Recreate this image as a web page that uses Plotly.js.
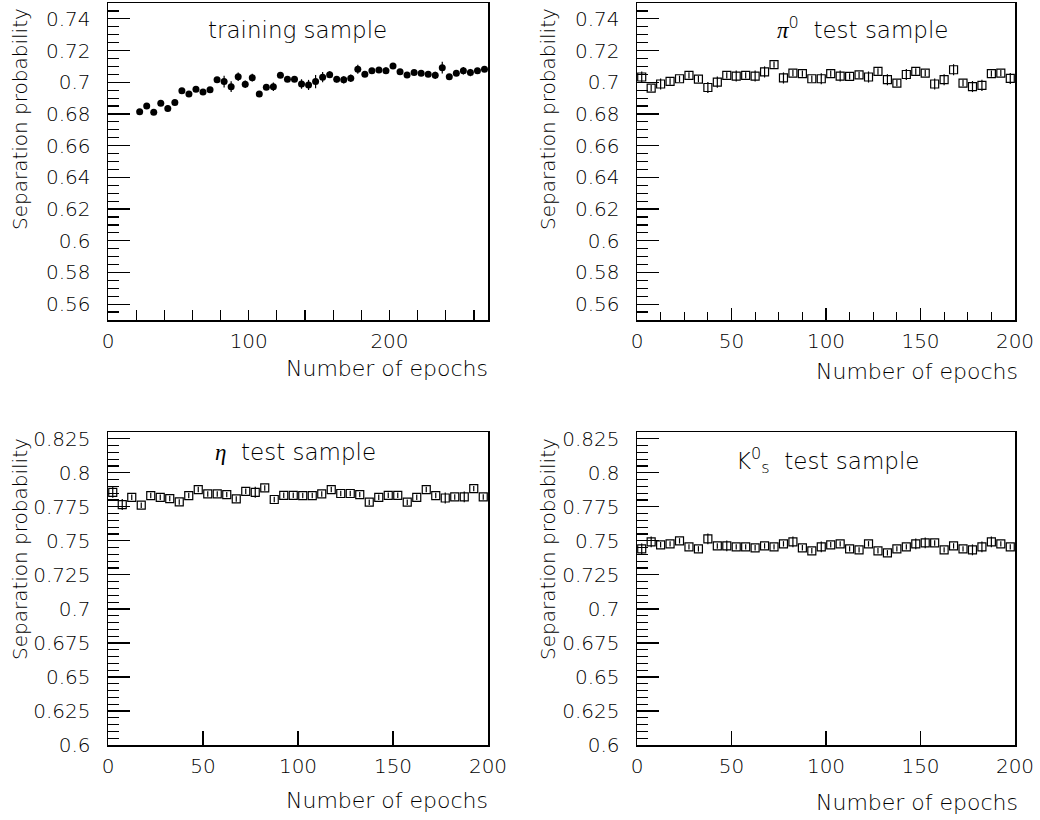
<!DOCTYPE html>
<html>
<head>
<meta charset="utf-8">
<script src="https://cdn.plot.ly/plotly-3.0.1.min.js"></script>
<style>html,body{margin:0;padding:0;background:#fff;}#chart{width:1040px;height:820px;}</style>
</head>
<body>
<div id="chart"></div>
<script>
// ---------- data ----------
const trainEpochs = [22.5,27.5,32.5,37.5,42.5,47.5,52.5,57.5,62.5,67.5,72.5,77.5,82.5,87.5,92.5,97.5,102.5,107.5,112.5,117.5,122.5,127.5,132.5,137.5,142.5,147.5,152.5,157.5,162.5,167.5,172.5,177.5,182.5,187.5,192.5,197.5,202.5,207.5,212.5,217.5,222.5,227.5,232.5,237.5,242.5,247.5,252.5,257.5,262.5,267.5];
const trainProb = [0.6814,0.6850,0.6810,0.6867,0.6835,0.6873,0.6947,0.6926,0.6956,0.6939,0.6953,0.7015,0.7004,0.6972,0.7035,0.6987,0.7029,0.6926,0.6968,0.6972,0.7044,0.7019,0.7019,0.6989,0.6983,0.7004,0.7032,0.7048,0.7019,0.7015,0.7025,0.7082,0.7051,0.7073,0.7078,0.7073,0.7103,0.7067,0.7046,0.7061,0.7057,0.7051,0.7044,0.7092,0.7035,0.7057,0.7073,0.7061,0.7073,0.7082];
const trainErr = [0.0015,0.0015,0.0015,0.0015,0.0018,0.0015,0.0015,0.0015,0.0015,0.0015,0.0015,0.0015,0.0037,0.0034,0.0027,0.0024,0.0024,0.0015,0.0015,0.0027,0.0015,0.0015,0.0015,0.0030,0.0032,0.0042,0.0032,0.0021,0.0021,0.0023,0.0024,0.0028,0.0015,0.0015,0.0015,0.0021,0.0015,0.0015,0.0015,0.0015,0.0015,0.0015,0.0023,0.0037,0.0015,0.0015,0.0024,0.0023,0.0015,0.0015];

const testEpochs = [2.5,7.5,12.5,17.5,22.5,27.5,32.5,37.5,42.5,47.5,52.5,57.5,62.5,67.5,72.5,77.5,82.5,87.5,92.5,97.5,102.5,107.5,112.5,117.5,122.5,127.5,132.5,137.5,142.5,147.5,152.5,157.5,162.5,167.5,172.5,177.5,182.5,187.5,192.5,197.5];

const pi0Prob = [0.7033,0.6963,0.6989,0.7005,0.7022,0.7043,0.7020,0.6967,0.7001,0.7043,0.7039,0.7043,0.7039,0.7065,0.7111,0.7027,0.7058,0.7054,0.7022,0.7022,0.7054,0.7039,0.7037,0.7047,0.7033,0.7068,0.7016,0.6995,0.7049,0.7068,0.7058,0.6989,0.7016,0.7079,0.6995,0.6973,0.6980,0.7054,0.7058,0.7024];
const pi0Err = [0.0035,0.002,0.0035,0.002,0.002,0.002,0.002,0.0035,0.0035,0.002,0.0035,0.002,0.0035,0.0035,0.002,0.0035,0.002,0.002,0.002,0.0035,0.002,0.0035,0.002,0.002,0.0035,0.002,0.0035,0.002,0.0035,0.002,0.002,0.0035,0.0035,0.0035,0.002,0.0035,0.0035,0.002,0.002,0.0035];

const etaProb = [0.7857,0.7767,0.7820,0.7762,0.7833,0.7820,0.7811,0.7786,0.7833,0.7877,0.7845,0.7845,0.7840,0.7808,0.7864,0.7857,0.7889,0.7804,0.7835,0.7835,0.7833,0.7833,0.7845,0.7877,0.7848,0.7848,0.7840,0.7784,0.7820,0.7835,0.7835,0.7784,0.7820,0.7877,0.7833,0.7815,0.7823,0.7823,0.7884,0.7823];
const etaErr = [0.004,0.004,0.002,0.002,0.002,0.002,0.002,0.002,0.002,0.002,0.002,0.002,0.002,0.002,0.002,0.004,0.002,0.002,0.002,0.002,0.002,0.002,0.002,0.002,0.002,0.002,0.002,0.002,0.002,0.002,0.002,0.002,0.002,0.002,0.002,0.004,0.002,0.004,0.002,0.002];

const k0sProb = [0.7441,0.7493,0.7471,0.7478,0.7500,0.7456,0.7441,0.7515,0.7463,0.7463,0.7456,0.7456,0.7449,0.7463,0.7456,0.7478,0.7493,0.7449,0.7427,0.7456,0.7471,0.7478,0.7441,0.7434,0.7478,0.7427,0.7412,0.7441,0.7456,0.7478,0.7485,0.7485,0.7434,0.7463,0.7441,0.7434,0.7456,0.7493,0.7478,0.7456];
const k0sErr = [0.004,0.004,0.002,0.002,0.002,0.002,0.002,0.004,0.002,0.004,0.002,0.002,0.002,0.002,0.002,0.002,0.004,0.002,0.002,0.004,0.002,0.002,0.002,0.002,0.002,0.002,0.002,0.002,0.002,0.004,0.004,0.002,0.002,0.002,0.002,0.004,0.004,0.004,0.002,0.002];

// tick labels
const topYTicks = [0.56,0.58,0.6,0.62,0.64,0.66,0.68,0.7,0.72,0.74];
const topYLabels = ['0.56','0.58','0.6','0.62','0.64','0.66','0.68','0.7','0.72','0.74'];
const botYTicks = [0.6,0.625,0.65,0.675,0.7,0.725,0.75,0.775,0.8,0.825];
const botYLabels = ['0.6','0.625','0.65','0.675','0.7','0.725','0.75','0.775','0.8','0.825'];
const trainXTicks = [0,100,200];
const trainXLabels = ['0','100','200'];
const testXTicks = [0,50,100,150,200];
const testXLabels = ['0','50','100','150','200'];

const SYM = s => '<span style="font-family:Liberation Serif;font-style:italic;font-weight:400">' + s + '</span>';
const panelTitles = ['training sample', SYM('π') + '<sup>0</sup>\u00a0\u00a0test sample', SYM('η') + '\u00a0\u00a0test sample', 'K<sup>0</sup><sub>s</sub>\u00a0\u00a0test sample'];
const yTitle = 'Separation probability';
const xTitle = 'Number of epochs';

// ---------- styling ----------
const FONT = 'DejaVu Sans';
const WEIGHT = 200;
const W = 1040, H = 820;
const px = v => v / W, py = v => (H - v) / H;

function xAxis(domain, range, tv, tt, majorLen, minorDtick, minorLen, anchor) {
  const a = {
    domain: domain, range: range, anchor: anchor,
    tickmode: 'array', tickvals: tv, ticktext: tt,
    ticks: 'inside', ticklen: majorLen, tickwidth: 1.2, tickcolor: '#000',
    showline: true, linecolor: '#000', linewidth: 1.5, mirror: true,
    showgrid: false, zeroline: false,
    tickfont: {family: FONT, size: 20, color: '#000', weight: WEIGHT},
    ticklabelstandoff: 2
  };
  if (minorDtick) a.minor = {dtick: minorDtick, tick0: 0, ticks: 'inside', ticklen: minorLen, tickwidth: 1.2, tickcolor: '#000', showgrid: false};
  return a;
}
function yAxis(domain, range, tv, tt, anchor) {
  return {
    domain: domain, range: range, anchor: anchor,
    tickmode: 'array', tickvals: tv, ticktext: tt,
    ticks: 'inside', ticklen: 22, tickwidth: 1.2, tickcolor: '#000',
    minor: {dtick: 0.005, tick0: 0, ticks: 'inside', ticklen: 11, tickwidth: 1.2, tickcolor: '#000', showgrid: false},
    showline: true, linecolor: '#000', linewidth: 1.5, mirror: true,
    showgrid: false, zeroline: false,
    tickfont: {family: FONT, size: 20, color: '#000', weight: WEIGHT},
    ticklabelstandoff: 12
  };
}

const xL = [px(108), px(488)], xR = [px(637), px(1015)];
const yT = [py(320), py(3)], yB = [py(745), py(432)];

function errY(arr) { return {type: 'data', array: arr, visible: true, thickness: 1.2, width: 0, color: '#000'}; }
const sq = {symbol: 'square-open', size: 8, color: '#000', line: {width: 1.2, color: '#000'}};

const traces = [
  {x: trainEpochs, y: trainProb, error_y: errY(trainErr), type: 'scatter', mode: 'markers',
   marker: {symbol: 'circle', size: 7, color: '#000'}, xaxis: 'x', yaxis: 'y', showlegend: false},
  {x: testEpochs, y: pi0Prob, error_y: errY(pi0Err), type: 'scatter', mode: 'markers',
   marker: sq, xaxis: 'x2', yaxis: 'y2', showlegend: false},
  {x: testEpochs, y: etaProb, error_y: errY(etaErr), type: 'scatter', mode: 'markers',
   marker: sq, xaxis: 'x3', yaxis: 'y3', showlegend: false},
  {x: testEpochs, y: k0sProb, error_y: errY(k0sErr), type: 'scatter', mode: 'markers',
   marker: sq, xaxis: 'x4', yaxis: 'y4', showlegend: false}
];

const txt = (size) => ({family: FONT, size: size, color: '#000', weight: WEIGHT});
const annotations = [];
// y titles
[[20, 6], [548, 6], [20, 436], [548, 436]].forEach(p => annotations.push({
  text: yTitle, xref: 'paper', yref: 'paper', x: px(p[0]), y: py(p[1]),
  xanchor: 'center', yanchor: 'top', textangle: -90, showarrow: false, font: txt(20)
}));
// x titles
[[490, 369], [1020, 372], [490, 800], [1020, 802]].forEach(p => annotations.push({
  text: xTitle, xref: 'paper', yref: 'paper', x: px(p[0]), y: py(p[1]),
  xanchor: 'right', yanchor: 'middle', showarrow: false, font: txt(22)
}));
// panel titles
[[297, 30], [863, 28], [295, 452], [827, 460]].forEach((p, i) => annotations.push({
  text: panelTitles[i], xref: 'paper', yref: 'paper', x: px(p[0]), y: py(p[1]),
  xanchor: 'center', yanchor: 'middle', showarrow: false, font: txt(23)
}));

const layout = {
  width: W, height: H, margin: {l: 0, r: 0, t: 0, b: 0},
  paper_bgcolor: '#fff', plot_bgcolor: '#fff', showlegend: false,
  xaxis: xAxis(xL, [0, 270], trainXTicks, trainXLabels, 10, 20, 10, 'y'),
  yaxis: yAxis(yT, [0.55, 0.75], topYTicks, topYLabels, 'x'),
  xaxis2: xAxis(xR, [0, 200], testXTicks, testXLabels, 12, 12.5, 8, 'y2'),
  yaxis2: yAxis(yT, [0.55, 0.75], topYTicks, topYLabels, 'x2'),
  xaxis3: xAxis(xL, [0, 200], testXTicks, testXLabels, 14, null, 0, 'y3'),
  yaxis3: yAxis(yB, [0.6, 0.83], botYTicks, botYLabels, 'x3'),
  xaxis4: xAxis(xR, [0, 200], testXTicks, testXLabels, 14, null, 0, 'y4'),
  yaxis4: yAxis(yB, [0.6, 0.83], botYTicks, botYLabels, 'x4'),
  annotations: annotations
};

Plotly.newPlot('chart', traces, layout, {staticPlot: true, displayModeBar: false});
</script>
</body>
</html>
